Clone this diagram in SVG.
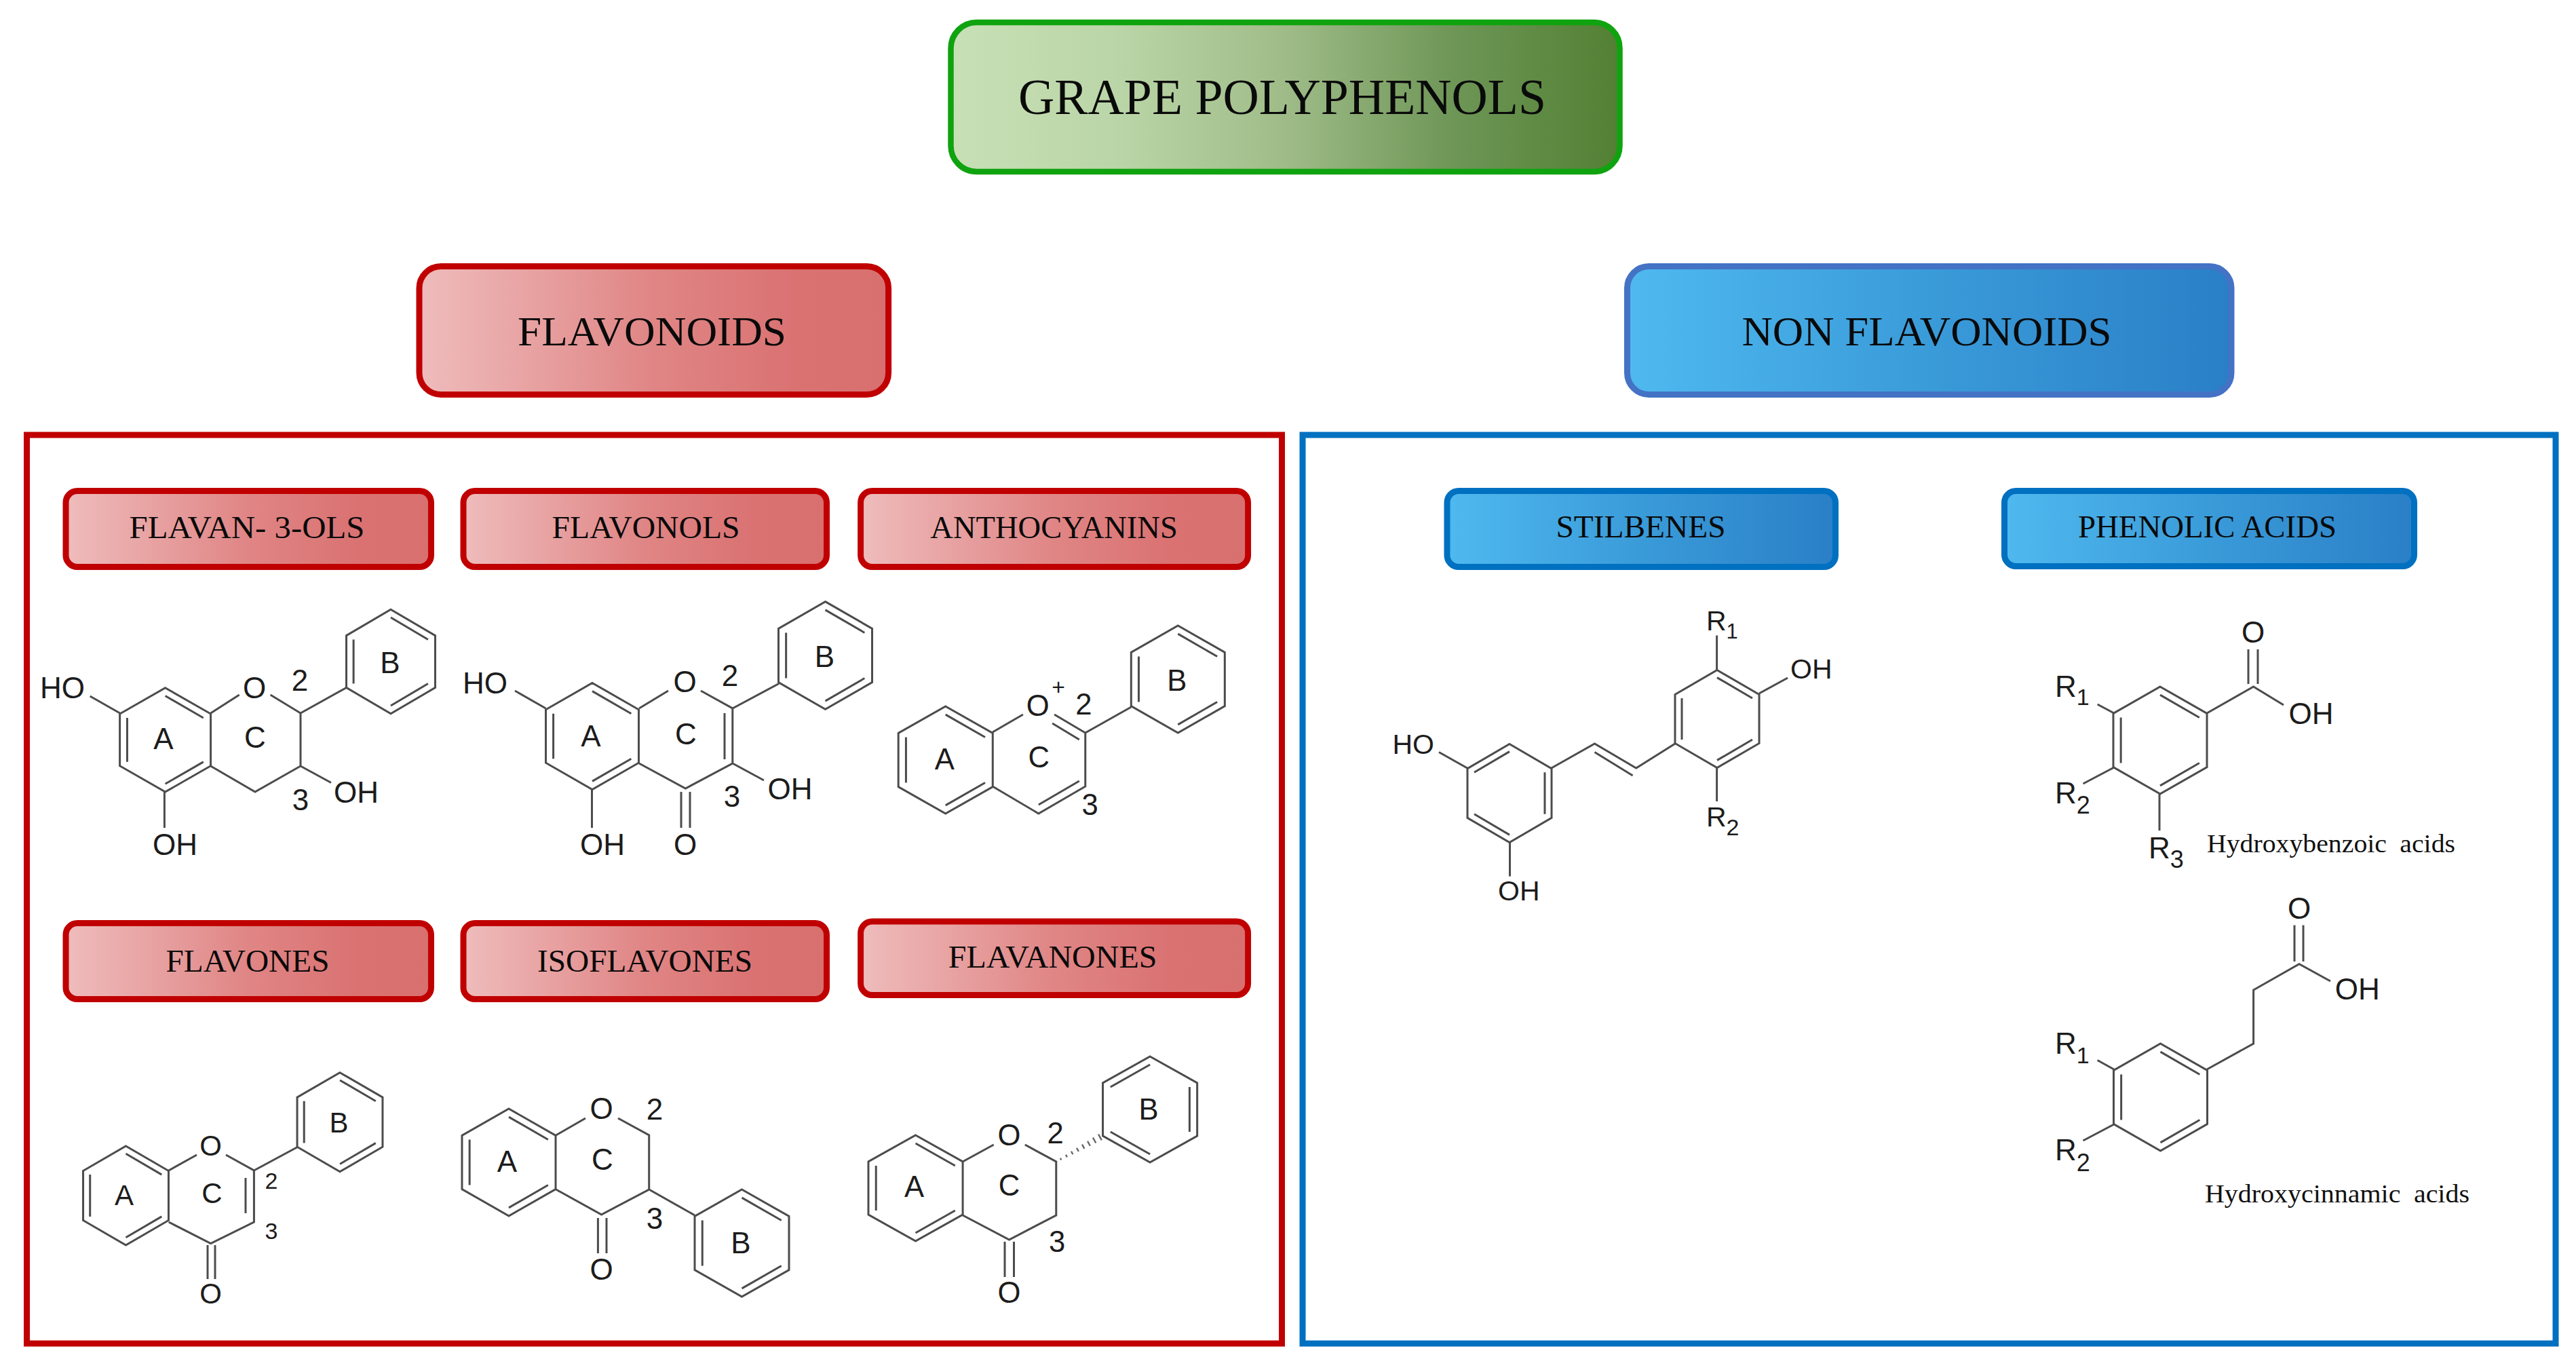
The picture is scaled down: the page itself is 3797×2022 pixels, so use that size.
<svg xmlns="http://www.w3.org/2000/svg" width="3797" height="2022" viewBox="0 0 3797 2022">
<style>
.bond{fill:none;stroke:#4c4c4c;stroke-width:3;stroke-linejoin:miter;vector-effect:non-scaling-stroke}
.hash{fill:none;stroke:#666;stroke-width:2.4}
.lab{font-family:"Liberation Sans",Arial,sans-serif;font-size:44px;fill:#1c1c1c}
.mid{text-anchor:middle}
.s{font-size:41px}
.m{font-size:42px}
.n{font-size:34px}
.plus{font-size:34px}
.ttl{font-family:"Liberation Serif","Times New Roman",serif;fill:#0a0a0a;text-anchor:middle}
.h1{font-size:73px}
.h2{font-size:62px}
.h3{font-size:47px}
.cap{font-family:"Liberation Serif","Times New Roman",serif;font-size:38px;fill:#111;word-spacing:9px}
.redbtn{fill:url(#gRed);stroke:#c00000;stroke-width:9}
.bluebtn{fill:url(#gBlue);stroke:#0070c0;stroke-width:9}
</style>
<defs>
<linearGradient id="gRed"><stop offset="0" stop-color="#efbcbc"/><stop offset=".5" stop-color="#e08585"/><stop offset=".8" stop-color="#da7272"/><stop offset="1" stop-color="#d87070"/></linearGradient>
<linearGradient id="gBlue"><stop offset="0" stop-color="#4fb9ef"/><stop offset=".5" stop-color="#3a9bd9"/><stop offset="1" stop-color="#2a7fc6"/></linearGradient>
<linearGradient id="gGreen"><stop offset="0" stop-color="#c8e0b6"/><stop offset=".25" stop-color="#bad5a7"/><stop offset=".5" stop-color="#9fbc88"/><stop offset=".75" stop-color="#6e9657"/><stop offset="1" stop-color="#528033"/></linearGradient>
<path id="b1" class="bond" d="M0-78L68-39V39L0 78L-68 39V-39ZM-57-33V33M0-66L57-33M0 66L57 33"/>
<path id="b2" class="bond" d="M0-78L68-39V39L0 78L-68 39V-39ZM57-33V33M0-66L-57-33M0 66L-57 33"/>
</defs>
<rect width="3797" height="2022" fill="#fff"/>

<g id="grape-polyphenols">
<rect x="1401.5" y="33" width="986" height="220" rx="38" ry="38" fill="url(#gGreen)" stroke="#10a310" stroke-width="8.5"/>
<text class="ttl h1" x="1890" y="168" textLength="778" lengthAdjust="spacingAndGlyphs">GRAPE POLYPHENOLS</text>
</g>
<g id="flavonoids">
<rect class="redbtn" x="618" y="392.5" width="691.6" height="189" rx="32" ry="32"/>
<text class="ttl h2" x="961" y="509" textLength="396" lengthAdjust="spacingAndGlyphs">FLAVONOIDS</text>
</g>
<g id="non-flavonoids">
<rect class="bluebtn" x="2398.5" y="392.5" width="890.5" height="189" rx="32" ry="32" style="stroke:#4472c4"/>
<text class="ttl h2" x="2840" y="509" textLength="545" lengthAdjust="spacingAndGlyphs">NON FLAVONOIDS</text>
</g>
<g id="flavonoids-frame"><rect x="39.5" y="641" width="1850" height="1339" fill="none" stroke="#c00000" stroke-width="9"/></g>
<g id="non-flavonoids-frame"><rect x="1920" y="641" width="1847" height="1339" fill="none" stroke="#0070c0" stroke-width="9"/></g>

<g id="flavan-3-ols">
<rect class="redbtn" x="97" y="723.5" width="538.5" height="112" rx="17" ry="17"/>
<text class="ttl h3" x="364" y="793" textLength="347" lengthAdjust="spacingAndGlyphs">FLAVAN- 3-OLS</text>
<use href="#b1" transform="translate(243.6 1090.4) scale(.985 .983)"/>
<use href="#b1" transform="translate(576 975) scale(.963 .985)"/>
<path class="bond" d="M310.6 1051L352.7 1024M398.6 1024L443 1051V1129L376 1167L310.6 1129M443 1051L510 1013.7M443 1129L488 1153.5M176.7 1051L132.7 1026M242.4 1167V1220"/>
<text class="lab" x="59" y="1029">HO</text><text class="lab mid" x="375" y="1029">O</text><text class="lab mid" x="442" y="1018">2</text><text class="lab mid" x="443" y="1193.6">3</text><text class="lab" x="492" y="1183">OH</text><text class="lab" x="225" y="1259.7">OH</text><text class="lab mid" x="241" y="1104">A</text><text class="lab mid" x="376" y="1102">C</text><text class="lab mid" x="575" y="992">B</text>
</g>

<g id="flavonols">
<rect class="redbtn" x="683" y="723.5" width="535.5" height="112" rx="17" ry="17"/>
<text class="ttl h3" x="952" y="793" textLength="277" lengthAdjust="spacingAndGlyphs">FLAVONOLS</text>
<use href="#b1" transform="translate(873 1085) scale(1.007 1.006)"/>
<use href="#b1" transform="translate(1216.5 966) scale(1.015 1.017)"/>
<path class="bond" d="M942 1044L985 1018M1033 1018L1079.8 1044V1125L1010.4 1162L942 1125M1068 1051V1119M1079.8 1044L1148 1007.5M1079.8 1125L1126 1150M804.5 1044L759 1018M872.5 1163V1220M1004 1167V1220M1017 1167V1220"/>
<text class="lab" x="682" y="1022">HO</text><text class="lab mid" x="1009.5" y="1020">O</text><text class="lab mid" x="1076" y="1010.6">2</text><text class="lab mid" x="1079" y="1189">3</text><text class="lab" x="1131.5" y="1178">OH</text><text class="lab" x="855" y="1259.7">OH</text><text class="lab mid" x="1010" y="1259.7">O</text><text class="lab mid" x="871" y="1100">A</text><text class="lab mid" x="1011" y="1097">C</text><text class="lab mid" x="1215.5" y="983">B</text>
</g>

<g id="anthocyanins" transform="matrix(.993 0 0 1 7 0)">
<rect class="redbtn" x="1270.5" y="723.5" width="575" height="112" rx="17" ry="17"/>
<text class="ttl h3" x="1557.5" y="793" textLength="367" lengthAdjust="spacingAndGlyphs">ANTHOCYANINS</text>
<use href="#b1" transform="translate(1396.5 1120) scale(1.03 1.013)"/>
<use href="#b1" transform="translate(1741.5 1001) scale(1.022 1.013)"/>
<path class="bond" d="M1466.4 1079L1511.5 1053M1558 1053L1604 1080V1159L1534.6 1199L1466.4 1159M1555 1066L1595 1090M1534.6 1186L1595 1151M1604 1080L1672 1042"/>
<text class="lab mid" x="1533.5" y="1055">O</text><text class="lab plus mid" x="1564" y="1024">+</text><text class="lab mid" x="1601.5" y="1053">2</text><text class="lab mid" x="1611" y="1201">3</text><text class="lab mid" x="1395" y="1134">A</text><text class="lab mid" x="1535" y="1131">C</text><text class="lab mid" x="1740" y="1018">B</text>
</g>

<g id="flavones">
<rect class="redbtn" x="97" y="1360.5" width="538.5" height="112" rx="17" ry="17"/>
<text class="ttl h3" x="365" y="1432" textLength="241" lengthAdjust="spacingAndGlyphs">FLAVONES</text>
<use href="#b1" transform="translate(185.5 1762) scale(.926 .936)"/>
<use href="#b1" transform="translate(501 1653.7) scale(.926 .936)"/>
<path class="bond" d="M248.7 1725L290 1702M333 1702L374.4 1725V1801L310.6 1832.6L248.7 1801M362 1736V1788M374.4 1725L438 1690.7M306 1835V1885M317 1835V1885"/>
<text class="lab m mid" x="310.6" y="1703">O</text><text class="lab n mid" x="400" y="1752">2</text><text class="lab n mid" x="400" y="1826">3</text><text class="lab m mid" x="310.6" y="1921">O</text><text class="lab m mid" x="183" y="1776">A</text><text class="lab m mid" x="312.5" y="1773">C</text><text class="lab m mid" x="499.4" y="1669">B</text>
</g>

<g id="isoflavones">
<rect class="redbtn" x="683" y="1360.5" width="535.5" height="112" rx="17" ry="17"/>
<text class="ttl h3" x="950.5" y="1432" textLength="317" lengthAdjust="spacingAndGlyphs">ISOFLAVONES</text>
<use href="#b1" transform="translate(750 1713) scale(1.015 1.013)"/>
<use href="#b1" transform="translate(1093.5 1832) scale(1.022 1.013)"/>
<path class="bond" d="M819.6 1673L863 1648M911 1648L956.7 1673V1753L886.5 1790L819.6 1753M956.7 1753L1024 1791M881.4 1795V1847M894 1795V1847"/>
<text class="lab mid" x="886.5" y="1649">O</text><text class="lab mid" x="965" y="1650">2</text><text class="lab mid" x="965" y="1811">3</text><text class="lab mid" x="886.5" y="1886">O</text><text class="lab mid" x="747.5" y="1726.5">A</text><text class="lab mid" x="888" y="1724">C</text><text class="lab mid" x="1092" y="1847">B</text>
</g>

<g id="flavanones" transform="matrix(.993 0 0 1 7 0)">
<rect class="redbtn" x="1270.5" y="1358" width="575" height="108.5" rx="17" ry="17"/>
<text class="ttl h3" x="1555.5" y="1426.5" textLength="310" lengthAdjust="spacingAndGlyphs">FLAVANONES</text>
<use href="#b1" transform="translate(1352 1751) scale(1.03 1)"/>
<use href="#b2" transform="translate(1700 1635) scale(1.03 1)"/>
<path class="bond" d="M1422 1712L1468 1687M1514.4 1687L1560.7 1712V1791L1491 1827L1422 1791M1484.4 1830V1882M1498 1830V1882"/>
<path class="hash" d="M1566.9 1706.9l1.4 2.6M1575.1 1701.8l1.8 3.6M1583.1 1696.8l2.4 4.4M1591.1 1691.8l3 5.2M1599.2 1686.7l3.4 6.2M1607.3 1681.7l3.8 7M1615.3 1676.7l4.4 7.8M1623.4 1671.6l4.8 8.8"/>
<text class="lab mid" x="1491" y="1688">O</text><text class="lab mid" x="1559.5" y="1685">2</text><text class="lab mid" x="1562" y="1845">3</text><text class="lab mid" x="1491" y="1920">O</text><text class="lab mid" x="1350" y="1764">A</text><text class="lab mid" x="1491" y="1762">C</text><text class="lab mid" x="1698" y="1650">B</text>
</g>

<g id="stilbenes">
<rect class="bluebtn" x="2133" y="723.5" width="572.5" height="112" rx="17" ry="17"/>
<text class="ttl h3" x="2418.5" y="791.5" textLength="250" lengthAdjust="spacingAndGlyphs">STILBENES</text>
<use href="#b2" transform="translate(2225 1169) scale(.912 .93)"/>
<use href="#b1" transform="translate(2531 1059.5) scale(.912 .923)"/>
<path class="bond" d="M2286.7 1132L2350.5 1096L2411.7 1132L2469 1096M2350.5 1108.5L2406.6 1143M2162.8 1132L2121 1108.5M2225.5 1241V1291.5M2530.6 988V936.6M2592.9 1022L2635 999M2530.6 1131V1181"/>
<text class="lab s" x="2052.5" y="1110.7">HO</text><text class="lab s" x="2208" y="1327">OH</text><text class="lab s" x="2639" y="1000">OH</text>
<text class="lab s" x="2515" y="929">R<tspan dy="12" font-size="31">1</tspan></text>
<text class="lab s" x="2515" y="1218">R<tspan dy="13" font-size="34">2</tspan></text>
</g>

<g id="phenolic-acids">
<rect class="bluebtn" x="2954.5" y="723.5" width="604" height="111" rx="17" ry="17"/>
<text class="ttl h3" x="3253.5" y="792" textLength="381" lengthAdjust="spacingAndGlyphs">PHENOLIC ACIDS</text>
</g>

<g id="hydroxybenzoic-acids">
<use href="#b1" transform="translate(3184 1091) scale(1.015 1.013)"/>
<path class="bond" d="M3253 1051L3321.6 1012L3366 1039M3314 1008V957M3328 1008V957M3116 1051L3091.6 1038M3116 1131L3070.5 1155M3183 1170V1224"/>
<text class="lab mid" x="3321" y="947">O</text><text class="lab" x="3373.6" y="1067">OH</text>
<text class="lab" x="3029" y="1027">R<tspan dy="12" font-size="34">1</tspan></text>
<text class="lab" x="3029" y="1184">R<tspan dy="15" font-size="36">2</tspan></text>
<text class="lab" x="3167" y="1265">R<tspan dy="14" font-size="36">3</tspan></text>
<text class="cap" x="3253" y="1255.5" textLength="366" lengthAdjust="spacingAndGlyphs">Hydroxybenzoic acids</text>
</g>

<g id="hydroxycinnamic-acids">
<use href="#b1" transform="translate(3184.5 1617) scale(1.015 1.013)"/>
<path class="bond" d="M3253 1576L3321.6 1538V1459L3389 1420.7L3435 1446M3382 1417V1363.5M3395 1417V1363.5M3116 1576L3091.6 1562.5M3116 1657L3070.5 1681"/>
<text class="lab mid" x="3389" y="1354">O</text><text class="lab" x="3441.7" y="1472.7">OH</text>
<text class="lab" x="3029" y="1553">R<tspan dy="14" font-size="34">1</tspan></text>
<text class="lab" x="3029" y="1710">R<tspan dy="16" font-size="36">2</tspan></text>
<text class="cap" x="3250" y="1772" textLength="390" lengthAdjust="spacingAndGlyphs">Hydroxycinnamic acids</text>
</g>
</svg>
